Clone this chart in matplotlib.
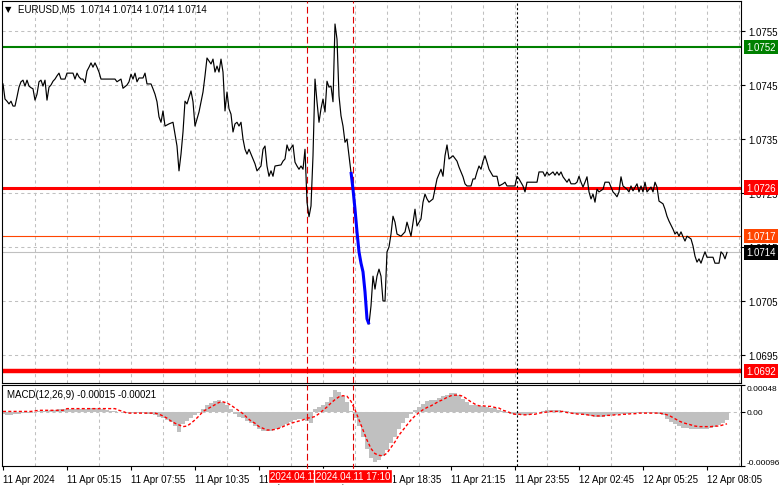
import matplotlib
matplotlib.use("Agg")
import matplotlib.pyplot as plt
import matplotlib.transforms as mtransforms

plt.rcParams['font.family'] = ['Liberation Sans', 'DejaVu Sans']
plt.rcParams['font.size'] = 7

# ---------------- data ----------------
symbol_title = "EURUSD,M5  1.0714 1.0714 1.0714 1.0714"
macd_title = "MACD(12,26,9) -0.00015 -0.00021"

price_bar = [
    0, 1, 2, 3, 4, 5, 6, 7, 8, 9,
    10, 11, 12, 13, 14, 15, 16, 17, 18, 19,
    20, 21, 22, 23, 24, 25, 26, 27, 28, 29,
    31, 32, 35, 36, 37, 38, 39, 40, 41, 42,
    43, 44, 45, 46, 47, 48, 49, 56, 57, 59,
    60, 62, 63, 64, 65, 66, 67, 68, 70, 71,
    72, 74, 75, 76, 77, 78, 79, 80, 81, 83,
    85, 86, 87, 88, 89, 90, 91, 92, 94, 95,
    96, 98, 100, 101, 102, 104, 105, 106, 107, 108,
    109, 110, 111, 112, 113, 114, 115, 116, 117, 118,
    119, 120, 121, 122, 123, 125, 126, 127, 129, 130,
    131, 132, 133, 134, 135, 136, 139, 140, 141, 142,
    143, 145, 146, 147, 148, 149, 150, 151, 152, 153,
    154, 155, 156, 157, 158, 159, 160, 161, 162, 163,
    164, 165, 166, 167, 168, 169, 170, 171, 172, 173,
    174, 175, 176, 177, 178, 179, 180, 181, 182, 183,
    184, 185, 186, 187, 188, 189, 190, 191, 192, 193,
    194, 195, 196, 197, 199, 201, 202, 204, 206, 207,
    209, 210, 211, 212, 213, 215, 216, 217, 219, 220,
    221, 222, 223, 225, 227, 228, 230, 231, 232, 234,
    235, 236, 237, 238, 239, 240, 241, 242, 243, 245,
    247, 248, 250, 251, 252, 256, 257, 258, 260, 261,
    262, 267, 268, 270, 271, 272, 273, 275, 276, 277,
    278, 279, 280, 282, 283, 284, 286, 287, 288, 289,
    290, 291, 292, 293, 294, 295, 296, 297, 298, 300,
    301, 303, 305, 306, 307, 308, 309, 310, 312, 313,
    314, 315, 317, 318, 319, 320, 321, 322, 324, 325,
    326, 327, 328, 330, 331, 332, 333, 335, 336, 337,
    338, 339, 340, 341, 342, 344, 345, 346, 347, 348,
    349, 350, 351, 352, 355, 356, 358, 359, 360, 361,
    362,
]
price_close = [
    1.07452, 1.07424, 1.07420, 1.07415, 1.07420, 1.07411, 1.07411, 1.07428, 1.07446, 1.07456,
    1.07459, 1.07448, 1.07459, 1.07448, 1.07445, 1.07443, 1.07422, 1.07433, 1.07456, 1.07459,
    1.07448, 1.07459, 1.07422, 1.07446, 1.07450, 1.07457, 1.07461, 1.07467, 1.07472, 1.07461,
    1.07461, 1.07472, 1.07472, 1.07461, 1.07472, 1.07465, 1.07461, 1.07461, 1.07454, 1.07476,
    1.07483, 1.07491, 1.07483, 1.07491, 1.07483, 1.07474, 1.07461, 1.07461, 1.07456, 1.07461,
    1.07444, 1.07450, 1.07456, 1.07470, 1.07461, 1.07472, 1.07456, 1.07463, 1.07463, 1.07472,
    1.07452, 1.07452, 1.07443, 1.07433, 1.07419, 1.07391, 1.07381, 1.07402, 1.07374, 1.07378,
    1.07381, 1.07359, 1.07337, 1.07291, 1.07322, 1.07363, 1.07420, 1.07415, 1.07439, 1.07419,
    1.07374, 1.07400, 1.07437, 1.07467, 1.07500, 1.07489, 1.07498, 1.07474, 1.07485, 1.07474,
    1.07498, 1.07474, 1.07402, 1.07437, 1.07406, 1.07396, 1.07363, 1.07378, 1.07381, 1.07374,
    1.07381, 1.07350, 1.07331, 1.07322, 1.07331, 1.07313, 1.07304, 1.07291, 1.07300, 1.07331,
    1.07337, 1.07300, 1.07281, 1.07291, 1.07281, 1.07300, 1.07302, 1.07309, 1.07313, 1.07339,
    1.07328, 1.07339, 1.07307, 1.07300, 1.07294, 1.07300, 1.07294, 1.07331, 1.07233, 1.07206,
    1.07226, 1.07319, 1.07461, 1.07419, 1.07381, 1.07406, 1.07424, 1.07400, 1.07457, 1.07446,
    1.07448, 1.07419, 1.07563, 1.07535, 1.07430, 1.07393, 1.07374, 1.07344, 1.07350, 1.07319,
    1.07289, 1.07257, 1.07220, 1.07178, 1.07141, 1.07120, 1.07104, 1.07067, 1.07017, 1.07007,
    1.07041, 1.07096, 1.07072, 1.07096, 1.07109, 1.07096, 1.07050, 1.07050, 1.07141, 1.07150,
    1.07174, 1.07207, 1.07196, 1.07174, 1.07170, 1.07178, 1.07196, 1.07170, 1.07220, 1.07189,
    1.07202, 1.07233, 1.07248, 1.07239, 1.07233, 1.07239, 1.07257, 1.07276, 1.07294, 1.07281,
    1.07319, 1.07339, 1.07313, 1.07319, 1.07309, 1.07298, 1.07280, 1.07267, 1.07263, 1.07263,
    1.07276, 1.07276, 1.07289, 1.07300, 1.07294, 1.07309, 1.07319, 1.07307, 1.07294, 1.07281,
    1.07281, 1.07263, 1.07267, 1.07270, 1.07263, 1.07263, 1.07281, 1.07276, 1.07263, 1.07252,
    1.07270, 1.07270, 1.07289, 1.07289, 1.07281, 1.07289, 1.07283, 1.07289, 1.07283, 1.07289,
    1.07283, 1.07289, 1.07280, 1.07270, 1.07276, 1.07267, 1.07267, 1.07270, 1.07281, 1.07270,
    1.07261, 1.07270, 1.07280, 1.07252, 1.07239, 1.07248, 1.07233, 1.07257, 1.07252, 1.07257,
    1.07270, 1.07270, 1.07252, 1.07248, 1.07243, 1.07252, 1.07280, 1.07263, 1.07257, 1.07252,
    1.07263, 1.07254, 1.07267, 1.07252, 1.07263, 1.07252, 1.07270, 1.07252, 1.07261, 1.07252,
    1.07270, 1.07261, 1.07235, 1.07230, 1.07220, 1.07207, 1.07198, 1.07183, 1.07174, 1.07178,
    1.07170, 1.07178, 1.07169, 1.07161, 1.07170, 1.07165, 1.07152, 1.07133, 1.07122, 1.07128,
    1.07120, 1.07131, 1.07141, 1.07131, 1.07131, 1.07120, 1.07120, 1.07141, 1.07137, 1.07128,
    1.07140,
]

# highlighted (blue) stretch of the price line
highlight_from, highlight_to = 174, 183

# MACD histogram / signal, one value every 2 bars starting at bar 0
macd_step = 2
macd_hist = [
    -0.00004, -0.00005, -0.00005, -0.00004, -0.00003, -0.00002, -0.00002, -0.00001, 0.00000, 0.00001,
    0.00002, 0.00002, 0.00003, 0.00004, 0.00005, 0.00006, 0.00006, 0.00006, 0.00006, 0.00006,
    0.00005, 0.00006, 0.00007, 0.00007, 0.00006, 0.00005, 0.00004, 0.00002, 0.00001, 0.00000,
    -0.00002, -0.00002, -0.00001, -0.00001, -0.00001, -0.00002, -0.00003, -0.00004, -0.00006, -0.00008,
    -0.00011, -0.00014, -0.00018, -0.00025, -0.00035, -0.00022, -0.00016, -0.00010, -0.00006, -0.00002,
    0.00005, 0.00012, 0.00016, 0.00019, 0.00021, 0.00018, 0.00012, 0.00005, -0.00004, -0.00008,
    -0.00011, -0.00016, -0.00019, -0.00025, -0.00031, -0.00034, -0.00034, -0.00033, -0.00031, -0.00029,
    -0.00025, -0.00021, -0.00017, -0.00014, -0.00012, -0.00013, -0.00016, -0.00020, 0.00005, 0.00009,
    0.00013, 0.00018, 0.00027, 0.00040, 0.00036, 0.00028, 0.00018, 0.00002, -0.00010, -0.00025,
    -0.00045, -0.00065, -0.00082, -0.00088, -0.00085, -0.00078, -0.00068, -0.00055, -0.00045, -0.00030,
    -0.00020, -0.00011, -0.00004, 0.00003, 0.00009, 0.00015, 0.00019, 0.00021, 0.00022, 0.00025,
    0.00028, 0.00031, 0.00033, 0.00033, 0.00030, 0.00024, 0.00018, 0.00013, 0.00012, 0.00010,
    0.00010, 0.00009, 0.00008, 0.00007, 0.00004, 0.00001, -0.00001, -0.00004, -0.00005, -0.00006,
    -0.00006, -0.00005, -0.00003, -0.00002, 0.00000, 0.00002, 0.00004, 0.00004, 0.00004, 0.00003,
    0.00002, 0.00001, -0.00001, -0.00003, -0.00004, -0.00005, -0.00006, -0.00007, -0.00008, -0.00008,
    -0.00008, -0.00007, -0.00006, -0.00005, -0.00004, -0.00003, -0.00003, -0.00002, -0.00002, -0.00001,
    -0.00001, -0.00001, -0.00001, -0.00002, -0.00004, -0.00006, -0.00012, -0.00017, -0.00022, -0.00025,
    -0.00028, -0.00029, -0.00030, -0.00031, -0.00031, -0.00031, -0.00030, -0.00028, -0.00026, -0.00023,
    -0.00019, -0.00015,
]
macd_signal = [
    0.00001, 0.00001, 0.00001, 0.00001, 0.00001, 0.00001, 0.00001, 0.00001, 0.00002, 0.00003,
    0.00003, 0.00003, 0.00003, 0.00003, 0.00003, 0.00003, 0.00006, 0.00006, 0.00006, 0.00006,
    0.00006, 0.00006, 0.00006, 0.00006, 0.00006, 0.00006, 0.00006, 0.00006, 0.00006, 0.00003,
    0.00001, -0.00002, -0.00002, -0.00002, -0.00002, -0.00002, -0.00002, -0.00002, -0.00002, -0.00004,
    -0.00007, -0.00011, -0.00016, -0.00020, -0.00023, -0.00026, -0.00025, -0.00020, -0.00014, -0.00007,
    0.00001, 0.00005, 0.00009, 0.00013, 0.00017, 0.00018, 0.00016, 0.00012, 0.00007, 0.00002,
    -0.00003, -0.00010, -0.00016, -0.00020, -0.00026, -0.00029, -0.00032, -0.00032, -0.00031, -0.00029,
    -0.00026, -0.00023, -0.00020, -0.00018, -0.00016, -0.00014, -0.00011, -0.00010, -0.00008, -0.00003,
    0.00003, 0.00009, 0.00016, 0.00022, 0.00027, 0.00029, 0.00028, 0.00019, 0.00004, -0.00014,
    -0.00032, -0.00050, -0.00065, -0.00074, -0.00077, -0.00078, -0.00073, -0.00063, -0.00053, -0.00041,
    -0.00032, -0.00023, -0.00014, -0.00007, -0.00001, 0.00004, 0.00008, 0.00011, 0.00015, 0.00019,
    0.00022, 0.00026, 0.00029, 0.00030, 0.00030, 0.00028, 0.00023, 0.00018, 0.00014, 0.00011,
    0.00011, 0.00010, 0.00010, 0.00008, 0.00007, 0.00003, 0.00001, -0.00002, -0.00004, -0.00004,
    -0.00005, -0.00005, -0.00004, -0.00004, -0.00002, -0.00001, 0.00000, 0.00001, 0.00001, 0.00001,
    0.00001, -0.00001, -0.00002, -0.00003, -0.00004, -0.00004, -0.00005, -0.00006, -0.00007, -0.00007,
    -0.00007, -0.00006, -0.00006, -0.00005, -0.00005, -0.00004, -0.00004, -0.00003, -0.00003, -0.00002,
    -0.00002, -0.00002, -0.00002, -0.00002, -0.00002, -0.00003, -0.00005, -0.00008, -0.00012, -0.00016,
    -0.00019, -0.00021, -0.00023, -0.00025, -0.00026, -0.00026, -0.00026, -0.00026, -0.00025, -0.00025,
    -0.00023, -0.00021,
]

# horizontal levels (price, colour, width in points)
level_prices = [1.0752, 1.0726, 1.0717, 1.0714, 1.0692]
level_colors = ['#008000', '#FF0000', '#FF4500', '#C0C0C0', '#FF0000']
level_widths = [1.5, 2.2, 0.8, 0.8, 3.2]
level_box_colors = ['#008000', '#FF0000', '#FF4500', '#000000', '#FF0000']

price_ticks = [1.0755, 1.0745, 1.0735, 1.0725, 1.0715, 1.0705, 1.0695]
macd_ticks = [0.00048, 0.0, -0.00096]
macd_tick_labels = ['0.00048', '0.00', '-0.00096']

time_label_bars = [0, 32, 64, 96, 128, 160, 192, 224, 256, 288, 320, 352]
time_labels = ['11 Apr 2024', '11 Apr 05:15', '11 Apr 07:55', '11 Apr 10:35',
               '11 Apr 13:15', '11 Apr 15:55', '11 Apr 18:35', '11 Apr 21:15',
               '11 Apr 23:55', '12 Apr 02:45', '12 Apr 05:25', '12 Apr 08:05']
grid_every = 16

event_bars = [152, 175]
event_labels = ['2024.04.11 15:15', '2024.04.11 17:10']
day_separator_bar = 257

# ---------------- layout ----------------
W, H = 781, 489
fig = plt.figure(figsize=(W / 100, H / 100), dpi=100)
fig.patch.set_facecolor('white')


def px_box(l, t, r, b):
    return [l / W, 1 - b / H, (r - l) / W, (b - t) / H]


ax = fig.add_axes(px_box(2, 2, 741, 384))
ax2 = fig.add_axes(px_box(2, 386, 741, 467))

n_right = 369
for a in (ax, ax2):
    a.set_xlim(-0.5, n_right)
    a.set_facecolor('white')
    for s in a.spines.values():
        s.set_color('black')
        s.set_linewidth(0.8)

grid_bars = list(range(grid_every, n_right + 1, grid_every))
grid_kw = dict(color='#C0C0C0', linewidth=0.75, linestyle=(0, (3, 3)))

# ---- main panel ----
ax.set_ylim(1.068981, 1.076056)
ax.set_xticks(grid_bars)
ax.tick_params(axis='x', length=0, labelbottom=False)
ax.yaxis.tick_right()
ax.set_yticks(price_ticks)
ax.set_yticklabels([f'{p:.4f}' for p in price_ticks])
ax.tick_params(axis='y', length=3, width=0.8, pad=2, labelsize=7, direction='out')
ax.grid(True, **grid_kw)
ax.set_axisbelow(True)

ax.plot(price_bar, price_close, color='black', linewidth=0.85, zorder=3)
hl_bars = [b for b in price_bar if highlight_from <= b <= highlight_to]
hl_vals = [c for b, c in zip(price_bar, price_close) if highlight_from <= b <= highlight_to]
ax.plot(hl_bars, hl_vals, color='#0000FF', linewidth=2.2, zorder=4, solid_capstyle='butt')

trans_right = mtransforms.blended_transform_factory(ax.transAxes, ax.transData)
for p, c, w, bc in zip(level_prices, level_colors, level_widths, level_box_colors):
    ax.axhline(p, color=c, linewidth=w, zorder=2.5)
    ax.text(1.0 + 5 / 739, p, f'{p:.4f}', transform=trans_right, ha='left', va='center',
            color='white', fontsize=7, clip_on=False, zorder=10,
            bbox=dict(boxstyle='square,pad=0.22', fc=bc, ec='none'))

for eb in event_bars:
    ax.axvline(eb, color='#E00000', linewidth=0.8, linestyle=(0, (6, 3)), zorder=2.6)
ax.axvline(day_separator_bar, color='black', linewidth=0.8, linestyle=(0, (2, 2)), zorder=2.6)

fig.text(8 / W, 1 - 10 / H, '\u25BC', fontsize=6, family='DejaVu Sans', ha='center', va='center')
fig.text(18 / W, 1 - 10 / H, symbol_title, fontsize=7, ha='left', va='center')

# ---- MACD panel ----
ax2.set_ylim(-0.00096, 0.00048)
macd_bars = list(range(0, macd_step * len(macd_hist), macd_step))
ax2.bar(macd_bars, macd_hist, width=macd_step, color='#C0C0C0', linewidth=0, zorder=2)
ax2.plot(macd_bars, macd_signal, color='#FF0000', linewidth=1.0,
         linestyle=(0, (2.2, 1.6)), zorder=3)
ax2.axhline(0, **grid_kw, zorder=1)

ax2.set_xticks(time_label_bars)
ax2.set_xticklabels(time_labels)
ax2.set_xticks(grid_bars, minor=True)
ax2.tick_params(axis='x', which='major', length=3, width=0.8, pad=3, labelsize=7)
ax2.tick_params(axis='x', which='minor', length=0)
for lbl in ax2.get_xticklabels():
    lbl.set_ha('left')
ax2.grid(True, which='minor', axis='x', **grid_kw)
ax2.set_axisbelow(True)

ax2.yaxis.tick_right()
ax2.set_yticks(macd_ticks)
ax2.set_yticklabels(macd_tick_labels)
ax2.tick_params(axis='y', length=3, width=0.8, pad=1, labelsize=6.0)
ylabels = ax2.get_yticklabels()
ylabels[0].set_va('top')
ylabels[-1].set_va('bottom')

for eb in event_bars:
    ax2.axvline(eb, ymin=-0.05, ymax=1, color='#E00000', linewidth=0.8,
                linestyle=(0, (6, 3)), zorder=2.6, clip_on=False)
ax2.axvline(day_separator_bar, color='black', linewidth=0.8, linestyle=(0, (2, 2)), zorder=2.6)

ax2.text(5 / 739, 1 - 9 / 81, macd_title, transform=ax2.transAxes, ha='left', va='center',
         fontsize=7, zorder=10)

trans_bottom = mtransforms.blended_transform_factory(ax2.transData, ax2.transAxes)
for i, (eb, lab) in enumerate(zip(event_bars, event_labels)):
    ax2.text(eb, -10 / 81, lab, transform=trans_bottom, ha='center', va='center',
             color='white', fontsize=7, clip_on=False, zorder=20 + i,
             bbox=dict(boxstyle='square,pad=0.2', fc='#FF0000', ec='white', lw=1.0))

fig.savefig('out.png', dpi=100, facecolor='white')
